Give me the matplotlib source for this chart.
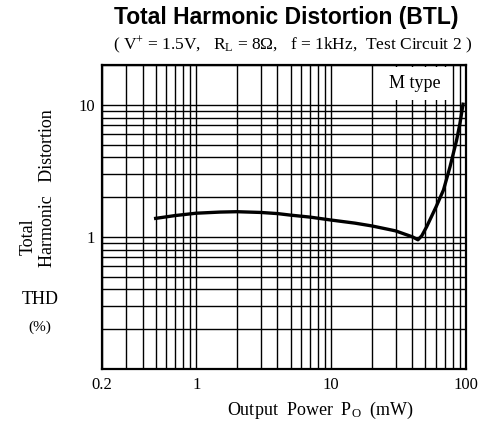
import numpy as np
import matplotlib
matplotlib.use("Agg")
from matplotlib import pyplot as plt
from matplotlib.ticker import LogLocator, NullFormatter, FixedLocator

# data (Po in mW, THD in %)
power_mw = [0.5, 0.7, 1, 1.5, 2, 3, 4, 5, 7, 10, 15, 20, 30, 40, 44, 47, 51, 60, 68, 76, 85, 90, 95]
thd_pct = [1.38, 1.45, 1.51, 1.54, 1.55, 1.53, 1.50, 1.46, 1.41, 1.34, 1.27, 1.21, 1.11, 1.00,
           0.95, 1.02, 1.19, 1.69, 2.26, 3.38, 5.36, 7.16, 10.1]

x_ticks = [0.2, 1, 10, 100]
x_ticklabels = ["0.2", "1", "10", "100"]
y_ticks = [1, 10]
y_ticklabels = ["1", "10"]

plt.rcParams["mathtext.fontset"] = "custom"
plt.rcParams["mathtext.rm"] = "Liberation Serif"
plt.rcParams["mathtext.it"] = "Liberation Serif:italic"
serif = "Liberation Serif"

fig = plt.figure(figsize=(4.88, 4.25), dpi=100)
ax = fig.add_axes([0.209, 0.132, 0.746, 0.715])

ax.set_xscale("log")
ax.set_yscale("log")
ax.set_xlim(0.2, 100)
ax.set_ylim(0.1, 20)

# grid on every decade subdivision
ax.xaxis.set_minor_locator(LogLocator(base=10, subs=np.arange(2, 10)))
ax.yaxis.set_minor_locator(LogLocator(base=10, subs=np.arange(2, 10)))
ax.xaxis.set_minor_formatter(NullFormatter())
ax.yaxis.set_minor_formatter(NullFormatter())
ax.grid(True, which="both", color="black", linewidth=1.0)
ax.set_axisbelow(True)

ax.xaxis.set_major_locator(FixedLocator(x_ticks))
ax.set_xticklabels(x_ticklabels, fontsize=12, family=serif)
ax.yaxis.set_major_locator(FixedLocator(y_ticks))
ax.set_yticklabels(y_ticklabels, fontsize=12, family=serif)
ax.tick_params(which="both", length=0)
ax.tick_params(axis="y", pad=5)
ax.tick_params(axis="x", pad=6)
for s in ax.spines.values():
    s.set_linewidth(1.6)

ax.plot(power_mw, thd_pct, color="black", linewidth=2.4, zorder=3)

ax.text(0.86, 0.94, "M type", transform=ax.transAxes, ha="center", va="center",
        fontsize=13, family=serif, zorder=4,
        bbox=dict(boxstyle="square,pad=0.45", facecolor="white", edgecolor="none"))

fig.text(0.586, 0.958, "Total Harmonic Distortion (BTL)", ha="center", va="center",
         fontsize=16.5, fontweight="bold", family="Liberation Sans")
fig.text(0.6, 0.893,
         r"( V$^{+}$ = 1.5V,   R$_{\rm L}$ = 8$\Omega$,   f = 1kHz,  Test Circuit 2 )",
         ha="center", va="center", fontsize=12.5, family=serif)

fig.text(0.057, 0.442, "Total", rotation=90, ha="center", va="center", fontsize=13, family=serif)
fig.text(0.098, 0.558, "Harmonic   Distortion", rotation=90, ha="center", va="center",
         fontsize=13, family=serif)
fig.text(0.082, 0.296, "THD", ha="center", va="center", fontsize=13, family=serif)
fig.text(0.082, 0.231, "(%)", ha="center", va="center", fontsize=11, family=serif)

fig.text(0.656, 0.035, r"Output  Power  P$_{\rm O}$  (mW)", ha="center", va="center",
         fontsize=13, family=serif)

fig.savefig("out.png", dpi=100)
